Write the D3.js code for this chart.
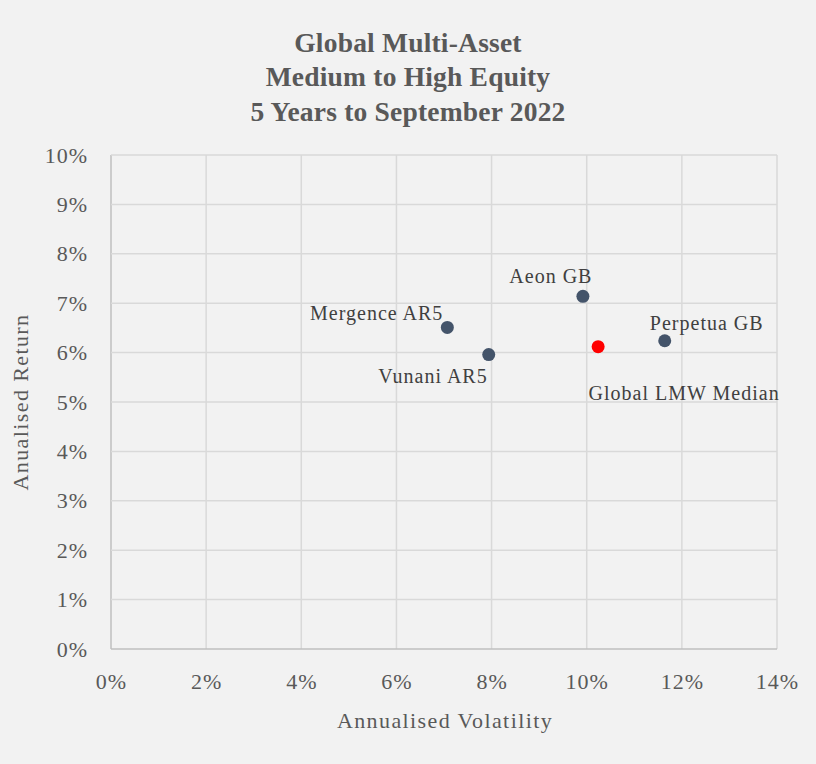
<!DOCTYPE html>
<html>
<head>
<meta charset="utf-8">
<script src="https://cdn.jsdelivr.net/npm/d3@7"></script>
<style>
  html, body { margin: 0; padding: 0; background: #f2f2f2; }
  text { font-family: "Liberation Serif", "DejaVu Serif", serif; }
</style>
</head>
<body>
<main></main>
<script>
// chart data
const titleLines = ["Global Multi-Asset", "Medium to High Equity", "5 Years to September 2022"];
const funds = ["Mergence AR5", "Vunani AR5", "Aeon GB", "Perpetua GB", "Global LMW Median"];
const volatility = [7.07, 7.94, 9.92, 11.64, 10.24];
const returns = [6.51, 5.96, 7.14, 6.24, 6.12];
const pointColors = ["#44546a", "#44546a", "#44546a", "#44546a", "#ff0000"];
const xTicks = [0, 2, 4, 6, 8, 10, 12, 14];
const yTicks = [0, 1, 2, 3, 4, 5, 6, 7, 8, 9, 10];

// label placement (offset from point, anchor)
const labelPos = [
    { dx: -4, dy: -7, anchor: "end" },
    { dx: -1, dy: 28, anchor: "end" },
    { dx: -32, dy: -13, anchor: "middle" },
    { dx: 42, dy: -11, anchor: "middle" },
    { dx: 86, dy: 53, anchor: "middle" }
];

let width = 816;
let height = 764;
const margin = { top: 155, bottom: 115, left: 111, right: 39 };

const x = d3.scaleLinear().domain([0, 14]).range([margin.left, width - margin.right]);
const y = d3.scaleLinear().domain([0, 10]).range([height - margin.bottom, margin.top]);

const svg = d3.select("main")
    .append("svg")
    .attr("width", width)
    .attr("height", height);

svg.append("rect")
    .attr("width", width)
    .attr("height", height)
    .attr("fill", "#f2f2f2");

// title
svg.append("g")
    .selectAll("text")
    .data(titleLines)
    .join("text")
    .attr("x", 408)
    .attr("y", (d, i) => 52 + i * 34.3)
    .attr("text-anchor", "middle")
    .attr("font-size", 27.5)
    .attr("font-weight", "bold")
    .attr("letter-spacing", 0.2)
    .attr("fill", "#595959")
    .text(d => d);

// gridlines
const grid = svg.append("g").attr("id", "grid");
grid.selectAll(".vgrid")
    .data(xTicks)
    .join("line")
    .attr("x1", d => x(d)).attr("x2", d => x(d))
    .attr("y1", y(0)).attr("y2", y(10))
    .attr("stroke", d => d === 0 ? "#bfbfbf" : "#d9d9d9")
    .attr("stroke-width", 1.5);
grid.selectAll(".hgrid")
    .data(yTicks)
    .join("line")
    .attr("x1", x(0)).attr("x2", x(14))
    .attr("y1", d => y(d)).attr("y2", d => y(d))
    .attr("stroke", d => d === 0 ? "#bfbfbf" : "#d9d9d9")
    .attr("stroke-width", 1.5);

// axes
const xAxis = svg.append("g")
    .attr("transform", "translate(0," + y(0) + ")")
    .call(d3.axisBottom(x).tickValues(xTicks).tickFormat(d => d + "%").tickSize(0).tickPadding(24));
const yAxis = svg.append("g")
    .attr("transform", "translate(" + x(0) + ",0)")
    .call(d3.axisLeft(y).tickValues(yTicks).tickFormat(d => d + "%").tickSize(0).tickPadding(23));
[xAxis, yAxis].forEach(g => {
    g.select(".domain").remove();
    g.selectAll("text")
        .attr("font-family", "Liberation Serif, DejaVu Serif, serif")
        .attr("font-size", 22)
        .attr("letter-spacing", 1)
        .attr("fill", "#595959");
});

// axis titles
svg.append("text")
    .attr("x", 445)
    .attr("y", 728)
    .attr("text-anchor", "middle")
    .attr("font-size", 22)
    .attr("letter-spacing", 1.4)
    .attr("fill", "#595959")
    .text("Annualised Volatility");
svg.append("text")
    .attr("transform", "translate(28,402) rotate(-90)")
    .attr("text-anchor", "middle")
    .attr("font-size", 22)
    .attr("letter-spacing", 1.4)
    .attr("fill", "#595959")
    .text("Anualised Return");

// points
const data_g = svg.append("g").attr("id", "data");
data_g.selectAll("circle")
    .data(funds)
    .join("circle")
    .attr("cx", (d, i) => x(volatility[i]))
    .attr("cy", (d, i) => y(returns[i]))
    .attr("r", 6.5)
    .attr("fill", (d, i) => pointColors[i]);

data_g.selectAll("text")
    .data(funds)
    .join("text")
    .attr("x", (d, i) => x(volatility[i]) + labelPos[i].dx)
    .attr("y", (d, i) => y(returns[i]) + labelPos[i].dy)
    .attr("text-anchor", (d, i) => labelPos[i].anchor)
    .attr("font-size", 20)
    .attr("letter-spacing", 1)
    .attr("fill", "#404040")
    .text(d => d);
</script>
</body>
</html>
